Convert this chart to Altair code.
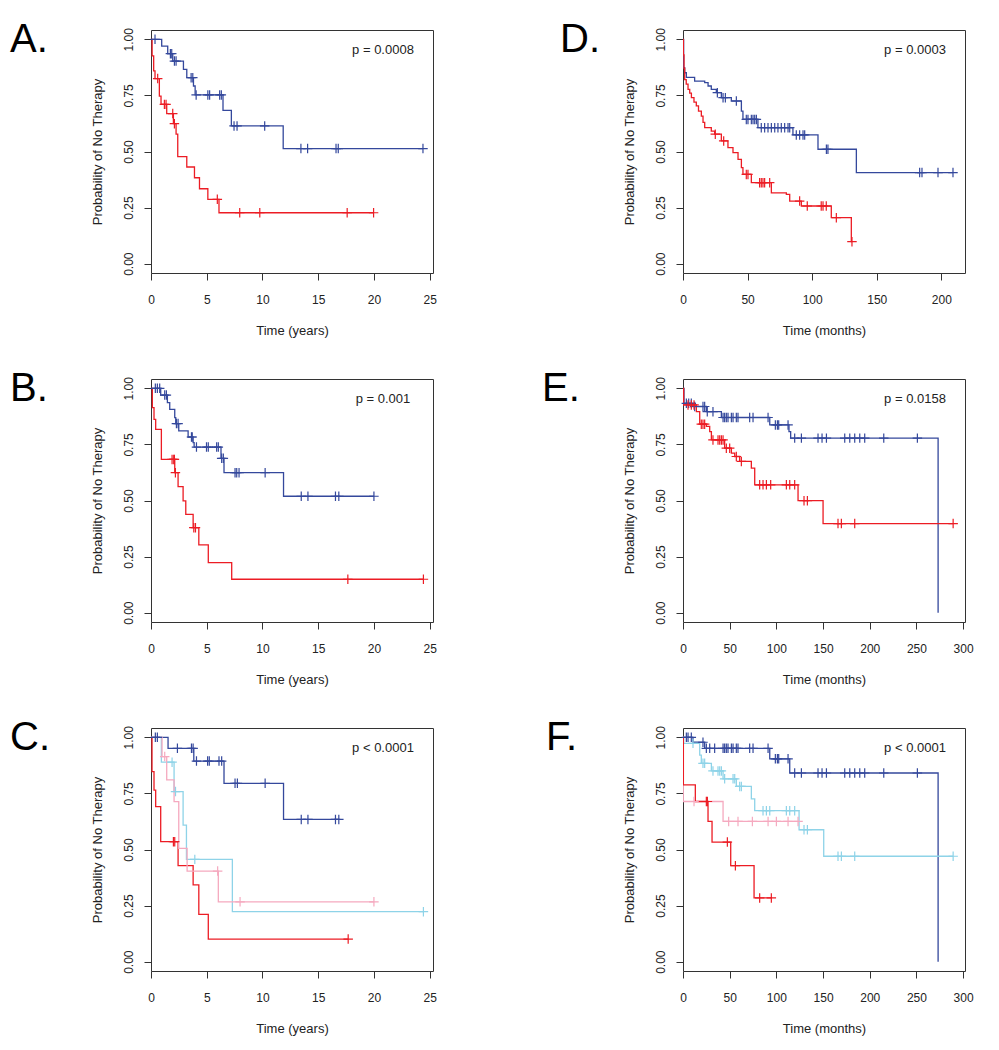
import altair as alt
import pandas as pd

FONT = "Liberation Sans"
BLUE = "#34489c"
RED = "#ec1c24"
CYAN = "#8ed3e8"
PINK = "#f5a9bf"
INK = "#222222"
FRAME = "#333333"

# ---------------- Panel A (years) ----------------
A_blue_t = [0.96, 1.50, 1.95, 2.91, 3.21, 3.81, 3.96, 6.46, 7.21, 11.86]
A_blue_s = [0.970, 0.936, 0.903, 0.866, 0.829, 0.792, 0.752, 0.683, 0.614, 0.513]
A_blue_c = [0.36, 1.74, 1.86, 2.10, 2.25, 3.60, 3.75, 4.05, 5.10, 5.26, 6.16, 6.31,
            7.45, 7.72, 10.2, 13.45, 14.05, 16.6, 16.8, 24.4]
A_red_t = [0.10, 0.24, 0.36, 0.75, 0.90, 1.41, 2.01, 2.25, 2.40, 3.21, 3.90, 4.35, 5.10, 6.10]
A_red_s = [0.926, 0.859, 0.825, 0.747, 0.710, 0.669, 0.624, 0.577, 0.477, 0.431, 0.383,
           0.334, 0.287, 0.227]
A_red_c = [0.6, 1.2, 1.35, 1.95, 2.1, 5.95, 7.96, 9.76, 17.6, 19.97]

# ---------------- Panel B (years) ----------------
B_blue_t = [0.87, 1.47, 1.68, 2.13, 2.22, 2.49, 3.33, 3.78, 3.87, 6.28, 6.55, 11.89]
B_blue_s = [0.970, 0.936, 0.906, 0.869, 0.843, 0.810, 0.783, 0.758, 0.738, 0.688, 0.624, 0.519]
B_blue_c = [0.39, 0.57, 0.78, 1.23, 1.38, 2.28, 2.43, 3.63, 3.70, 4.08, 4.98, 5.14, 5.89,
            6.04, 6.34, 6.49, 7.54, 7.69, 7.90, 10.24, 13.48, 14.08, 16.55, 16.85, 20.0]
B_red_t = [0.12, 0.27, 0.42, 0.93, 2.13, 2.43, 2.88, 3.12, 3.78, 4.29, 5.14, 7.24]
B_red_s = [0.914, 0.862, 0.817, 0.683, 0.624, 0.562, 0.498, 0.438, 0.379, 0.302, 0.223, 0.149]
B_red_c = [1.89, 2.04, 2.10, 2.19, 3.84, 3.99, 17.66, 24.44]

# ---------------- Panel C (years) ----------------
C_blue_t = [1.53, 3.84, 6.55, 11.89]
C_blue_s = [0.951, 0.894, 0.795, 0.634]
C_blue_c = [0.39, 0.57, 2.37, 3.63, 3.78, 4.08, 5.08, 5.23, 6.10, 6.34, 7.54, 7.75, 10.24,
            13.48, 14.08, 16.55, 16.85]
C_red_t = [0.09, 0.27, 0.42, 0.87, 2.43, 3.78, 4.29, 5.14]
C_red_s = [0.847, 0.765, 0.691, 0.535, 0.428, 0.342, 0.211, 0.101]
C_red_c = [2.01, 2.13, 17.69]
C_cyan_t = [0.93, 2.07, 2.88, 3.18, 7.30]
C_cyan_s = [0.889, 0.758, 0.609, 0.456, 0.223]
C_cyan_c = [1.89, 2.20, 3.93, 24.44]
C_pink_t = [0.99, 1.41, 2.07, 2.49, 3.24, 6.04]
C_pink_s = [0.914, 0.810, 0.713, 0.505, 0.404, 0.267]
C_pink_c = [1.23, 5.98, 7.99, 20.0]

# ---------------- Panel D (months) ----------------
D_blue_t = [0.5, 1.3, 2.6, 9.0, 16.8, 19.4, 21.9, 25.8, 29.7, 37.4, 45.2, 46.4, 58.0,
            85.1, 104.5, 134.2]
D_blue_s = [0.874, 0.851, 0.830, 0.814, 0.807, 0.792, 0.777, 0.762, 0.740, 0.725, 0.680,
            0.643, 0.606, 0.574, 0.510, 0.406]
D_blue_c = [26.6, 31.0, 32.8, 41.3, 49.0, 50.3, 52.9, 54.2, 55.5, 56.8, 60.6, 63.2, 65.8,
            68.4, 71.0, 73.5, 76.1, 78.7, 81.3, 82.6, 87.7, 90.3, 92.9, 94.2, 111.0, 112.2,
            183.2, 185.0, 197.4, 209.0]
D_red_t = [0.3, 0.8, 1.3, 2.5, 3.9, 5.2, 6.5, 8.5, 10.3, 12.0, 14.2, 15.5, 16.8, 21.9, 24.5,
           29.7, 34.8, 38.7, 42.6, 45.2, 46.4, 52.9, 68.4, 80.0, 82.6, 91.6, 114.8, 130.3]
D_red_s = [0.93, 0.87, 0.82, 0.80, 0.777, 0.76, 0.74, 0.72, 0.703, 0.68, 0.658, 0.63, 0.606,
           0.591, 0.577, 0.547, 0.517, 0.495, 0.465, 0.428, 0.398, 0.361, 0.316, 0.309,
           0.279, 0.257, 0.205, 0.098]
D_red_c = [25.0, 31.5, 49.0, 50.3, 59.3, 60.6, 61.9, 63.2, 67.1, 90.3, 96.2, 107.0, 108.4,
           110.9, 118.7, 130.8]

# ---------------- Panel E (months) ----------------
E_blue_t = [1.07, 10.7, 25.0, 41.1, 92.9, 113.5, 115.3, 273.2]
E_blue_s = [0.933, 0.919, 0.896, 0.870, 0.837, 0.807, 0.778, 0.0]
E_blue_c = [3.6, 6.1, 8.9, 12.5, 21.4, 23.2, 26.0, 32.1, 42.9, 44.6, 46.4, 48.2, 51.8, 53.6,
            57.1, 58.9, 71.4, 75.0, 91.1, 98.9, 101.1, 102.5, 112.5, 119.6, 126.8, 144.6,
            148.9, 153.6, 173.2, 178.6, 183.9, 189.3, 194.6, 215.0, 251.0]
E_red_t = [0.7, 14.3, 17.9, 25.0, 28.6, 30.4, 44.6, 51.8, 55.4, 60.7, 73.2, 76.8, 123.2, 150.0]
E_red_s = [0.926, 0.896, 0.840, 0.830, 0.807, 0.770, 0.733, 0.711, 0.696, 0.674, 0.644,
           0.570, 0.499, 0.397]
E_red_c = [5.4, 8.9, 11.8, 19.6, 21.4, 23.2, 32.1, 37.5, 39.3, 41.1, 42.9, 46.4, 50.0, 57.1,
           62.5, 82.1, 85.7, 89.3, 93.9, 110.7, 114.3, 119.6, 129.6, 133.2, 166.0, 169.6,
           183.9, 289.3]

# ---------------- Panel F (months) ----------------
F_blue_t = [10.7, 23.2, 92.9, 114.3, 273.2]
F_blue_s = [0.978, 0.951, 0.904, 0.841, 0.0]
F_blue_c = [3.6, 5.4, 8.9, 21.4, 25.0, 28.6, 33.9, 42.9, 44.6, 46.4, 48.2, 51.8, 53.6, 57.1,
            58.9, 71.4, 75.0, 91.1, 98.9, 101.1, 102.5, 112.5, 119.6, 126.8, 144.6, 148.9,
            153.6, 173.2, 178.6, 183.9, 189.3, 194.6, 215.0, 251.0]
F_cyan_t = [0.7, 17.9, 19.6, 30.4, 42.9, 57.1, 73.2, 76.8, 124.3, 150.7]
F_cyan_s = [0.973, 0.921, 0.884, 0.850, 0.815, 0.781, 0.726, 0.673, 0.588, 0.470]
F_cyan_c = [10.7, 21.4, 23.2, 32.1, 37.5, 39.3, 41.1, 44.6, 53.6, 55.4, 60.7, 62.5, 85.7,
            89.3, 92.9, 110.7, 114.3, 119.6, 129.6, 133.2, 166.0, 169.6, 183.9, 289.3]
F_pink_t = [0.3, 42.9]
F_pink_s = [0.714, 0.625]
F_pink_c = [11.8, 48.9, 58.9, 74.3, 91.1, 100.0, 112.5, 123.2]
F_red_t = [0.4, 13.2, 26.8, 31.1, 51.1, 76.1]
F_red_s = [0.788, 0.714, 0.625, 0.533, 0.428, 0.284]
F_red_c = [25.0, 26.1, 47.5, 56.1, 82.1, 94.6]

P_VALUES = ["p = 0.0008", "p = 0.001", "p < 0.0001", "p = 0.0003", "p = 0.0158", "p < 0.0001"]
LETTERS = ["A.", "B.", "C.", "D.", "E.", "F."]
YEAR_TICKS = [0, 5, 10, 15, 20, 25]
D_TICKS = [0, 50, 100, 150, 200]
EF_TICKS = [0, 50, 100, 150, 200, 250, 300]
Y_TICKS = [0.0, 0.25, 0.5, 0.75, 1.0]

W, H = 282, 243
Y_DOM = [-0.0415, 1.0415]
CROSS = "M-1,0L1,0M0,-1L0,1"


def surv_at(times, survs, t):
    s = 1.0
    for ti, si in zip(times, survs):
        if ti <= t:
            s = si
    return s


def panel(letter, lx, pval, curves, xdom, xticks, xtitle):
    line_rows, cens_rows, names, colors = [], [], [], []
    for name, color, times, survs, cens in curves:
        names.append(name)
        colors.append(color)
        end = max([times[-1]] + cens)
        pts = [(0.0, 1.0)] + list(zip(times, survs)) + [(end, survs[-1])]
        for i, (t, s) in enumerate(pts):
            line_rows.append({"g": name, "t": t, "s": s, "o": i})
        for t in cens:
            cens_rows.append({"g": name, "t": t, "s": surv_at(times, survs, t)})

    xscale = alt.Scale(domain=xdom, nice=False, zero=False)
    yscale = alt.Scale(domain=Y_DOM, nice=False, zero=False)
    cscale = alt.Scale(domain=names, range=colors)
    xaxis = alt.Axis(values=xticks, title=xtitle, grid=False, domain=False, ticks=True,
                     tickSize=7, tickColor=FRAME, tickWidth=1, format="d",
                     labelFont=FONT, labelFontSize=12, labelColor=INK,
                     labelBaseline="alphabetic", labelPadding=23, labelFlush=False,
                     labelOverlap=False, titleFont=FONT, titleFontSize=13,
                     titleFontWeight="normal", titleColor=INK, titleBaseline="alphabetic",
                     titleAlign="center", titleX=W / 2, titleY=61)
    yaxis = alt.Axis(values=Y_TICKS, format=".2f", title="Probability of No Therapy",
                     grid=False, domain=False, ticks=True, tickSize=7, tickColor=FRAME,
                     tickWidth=1, labelFont=FONT, labelFontSize=12, labelColor=INK,
                     labelAngle=270, labelAlign="center", labelBaseline="alphabetic",
                     labelPadding=12, labelFlush=False, labelOverlap=False,
                     titleFont=FONT, titleFontSize=13, titleFontWeight="normal",
                     titleColor=INK, titleAngle=270, titleAlign="center",
                     titleBaseline="alphabetic", titleX=-50, titleY=H / 2)

    lines = alt.Chart(pd.DataFrame(line_rows)).mark_line(
        interpolate="step-after", strokeWidth=1.3, clip=True
    ).encode(
        x=alt.X("t:Q", scale=xscale, axis=xaxis),
        y=alt.Y("s:Q", scale=yscale, axis=yaxis),
        color=alt.Color("g:N", scale=cscale, legend=None),
        detail="g:N",
        order="o:Q",
    )
    marks = alt.Chart(pd.DataFrame(cens_rows)).mark_point(
        shape=CROSS, filled=False, size=90, strokeWidth=1.2, opacity=1
    ).encode(
        x=alt.X("t:Q", scale=xscale),
        y=alt.Y("s:Q", scale=yscale),
        color=alt.Color("g:N", scale=cscale, legend=None),
    )
    ptext = alt.Chart(pd.DataFrame({"p": [pval]})).mark_text(
        align="center", baseline="alphabetic", font=FONT, fontSize=13, color=INK
    ).encode(x=alt.value(232), y=alt.value(24), text="p:N")
    ltext = alt.Chart(pd.DataFrame({"l": [letter]})).mark_text(
        align="left", baseline="alphabetic", font=FONT, fontSize=40, color="black"
    ).encode(x=alt.value(lx), y=alt.value(22), text="l:N")
    return alt.layer(lines, marks, ptext, ltext).properties(width=W, height=H)


pA = panel(LETTERS[0], -141, P_VALUES[0],
           [("hi", BLUE, A_blue_t, A_blue_s, A_blue_c),
            ("lo", RED, A_red_t, A_red_s, A_red_c)],
           [0, 25.3], YEAR_TICKS, "Time (years)")
pB = panel(LETTERS[1], -141, P_VALUES[1],
           [("hi", BLUE, B_blue_t, B_blue_s, B_blue_c),
            ("lo", RED, B_red_t, B_red_s, B_red_c)],
           [0, 25.3], YEAR_TICKS, "Time (years)")
pC = panel(LETTERS[2], -141, P_VALUES[2],
           [("g1", BLUE, C_blue_t, C_blue_s, C_blue_c),
            ("g4", RED, C_red_t, C_red_s, C_red_c),
            ("g2", CYAN, C_cyan_t, C_cyan_s, C_cyan_c),
            ("g3", PINK, C_pink_t, C_pink_s, C_pink_c)],
           [0, 25.3], YEAR_TICKS, "Time (years)")
pD = panel(LETTERS[3], -123, P_VALUES[3],
           [("hi", BLUE, D_blue_t, D_blue_s, D_blue_c),
            ("lo", RED, D_red_t, D_red_s, D_red_c)],
           [0, 218.3], D_TICKS, "Time (months)")
pE = panel(LETTERS[4], -141, P_VALUES[4],
           [("hi", BLUE, E_blue_t, E_blue_s, E_blue_c),
            ("lo", RED, E_red_t, E_red_s, E_red_c)],
           [0, 302], EF_TICKS, "Time (months)")
pF = panel(LETTERS[5], -137, P_VALUES[5],
           [("g1", BLUE, F_blue_t, F_blue_s, F_blue_c),
            ("g2", CYAN, F_cyan_t, F_cyan_s, F_cyan_c),
            ("g3", PINK, F_pink_t, F_pink_s, F_pink_c),
            ("g4", RED, F_red_t, F_red_s, F_red_c)],
           [0, 302], EF_TICKS, "Time (months)")

chart = alt.concat(
    pA, pD, pB, pE, pC, pF,
    columns=2,
    spacing={"row": 106, "column": 250},
    bounds="flush",
).resolve_scale(
    x="independent", y="independent", color="independent"
).configure_view(
    stroke=FRAME, strokeWidth=1
).properties(
    padding={"left": 1, "top": 11, "right": 5, "bottom": 5},
    background="white",
)

chart.save("out.html", embed_options={"renderer": "svg", "actions": False})
